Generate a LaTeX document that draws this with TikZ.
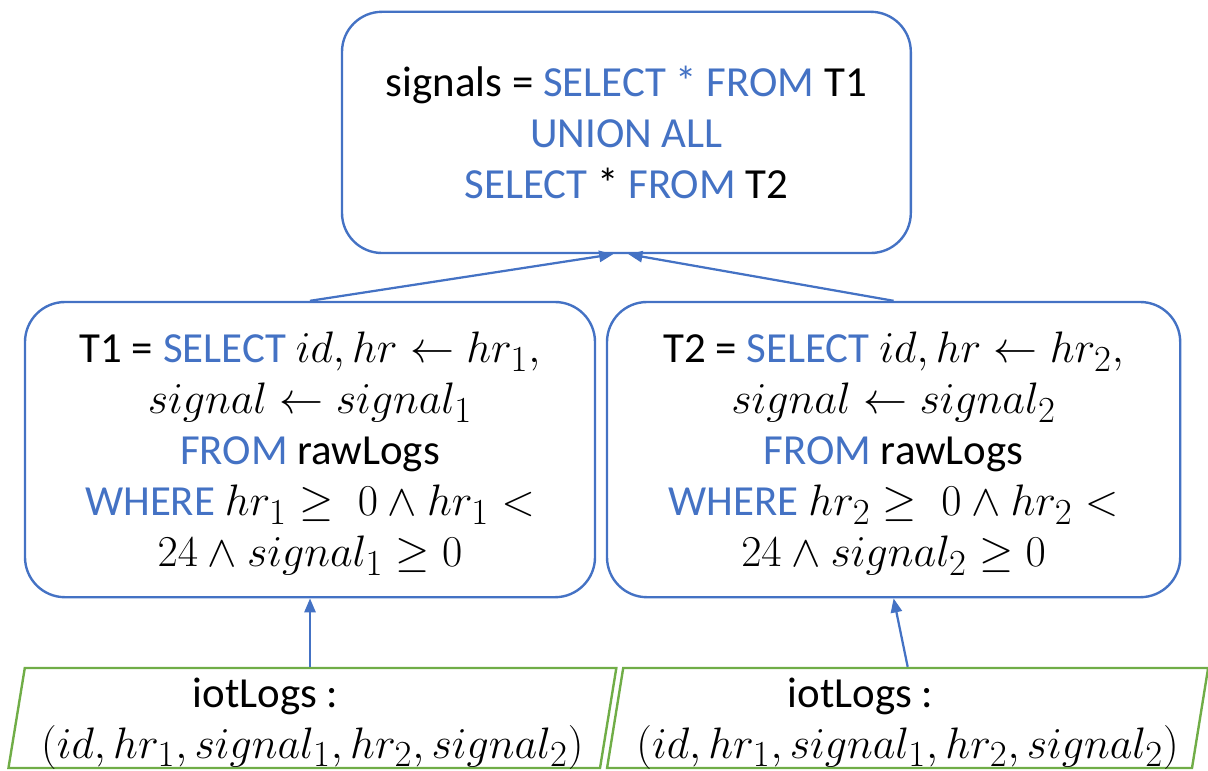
\documentclass[tikz,border=0pt]{standalone}
\usepackage[no-math]{fontspec}
\setmainfont{Carlito}
\usepackage{tikz}
\usetikzlibrary{positioning, arrows.meta, shapes.geometric}
\definecolor{kwBlue}{HTML}{4472C4}
\definecolor{srcGreen}{HTML}{70AD47}
\newcommand{\kw}[1]{\textcolor{kwBlue}{#1}}
\newcommand{\mth}[1]{\scalebox{1.26}{$#1$}}
\newcommand{\boxfont}{\fontsize{30.5}{36.3}\selectfont\lineskiplimit=-20pt\relax}

\begin{document}
\begin{tikzpicture}[qbox/.style={draw=kwBlue, line width=1.7pt, rounded corners=1cm, align=center, text depth=0pt, font=\boxfont},src/.style={draw=srcGreen, line width=1.7pt, trapezium, trapezium left angle=79, trapezium right angle=101, trapezium stretches=true, minimum width=15.2cm, minimum height=2.5cm, inner ysep=0pt, align=center, text depth=0pt, font=\boxfont},arr/.style={draw=kwBlue, line width=1.6pt, -{Triangle[length=10pt, width=8pt]}}]
\useasboundingbox (0,0) rectangle (30.2,-19.25);
\node[qbox, minimum width=14.22cm, minimum height=6.03cm] (sig) at (15.66,-3.31) {signals = \kw{SELECT * FROM} T1\\\kw{UNION ALL}\\\kw{SELECT} * \kw{FROM} T2};
\node[qbox, minimum width=14.25cm, minimum height=7.38cm] (t1) at (7.75,-11.24) {T1 = \kw{SELECT} \mth{id, hr \leftarrow hr_1,}\\\mth{signal \leftarrow signal_1}\\\kw{FROM} rawLogs\\\kw{WHERE} \mth{hr_1 \geq\ 0 \wedge hr_1 <}\\\mth{24 \wedge signal_1 \geq 0}};
\node[qbox, minimum width=14.33cm, minimum height=7.38cm] (t2) at (22.34,-11.24) {T2 = \kw{SELECT} \mth{id, hr \leftarrow hr_2,}\\\mth{signal \leftarrow signal_2}\\\kw{FROM} rawLogs\\\kw{WHERE} \mth{hr_2 \geq\ 0 \wedge hr_2 <}\\\mth{24 \wedge signal_2 \geq 0}};
\node[src] (logL) at (7.81,-17.95) {iotLogs :\hspace*{2.35cm}\\\mth{(id, hr_1, signal_1, hr_2, signal_2)}};
\node[src, minimum width=15.03cm] (logR) at (22.69,-17.95) {iotLogs :\hspace*{2.35cm}\\\mth{(id, hr_1, signal_1, hr_2, signal_2)}};
\draw[arr] (t1.north) -- ([xshift=-0.33cm]sig.south);
\draw[arr] (t2.north) -- ([xshift=0.05cm]sig.south);
\draw[arr] (t1.south |- logL.north) -- (t1.south);
\draw[arr] (logR.north) -- (t2.south);
\end{tikzpicture}
\end{document}
